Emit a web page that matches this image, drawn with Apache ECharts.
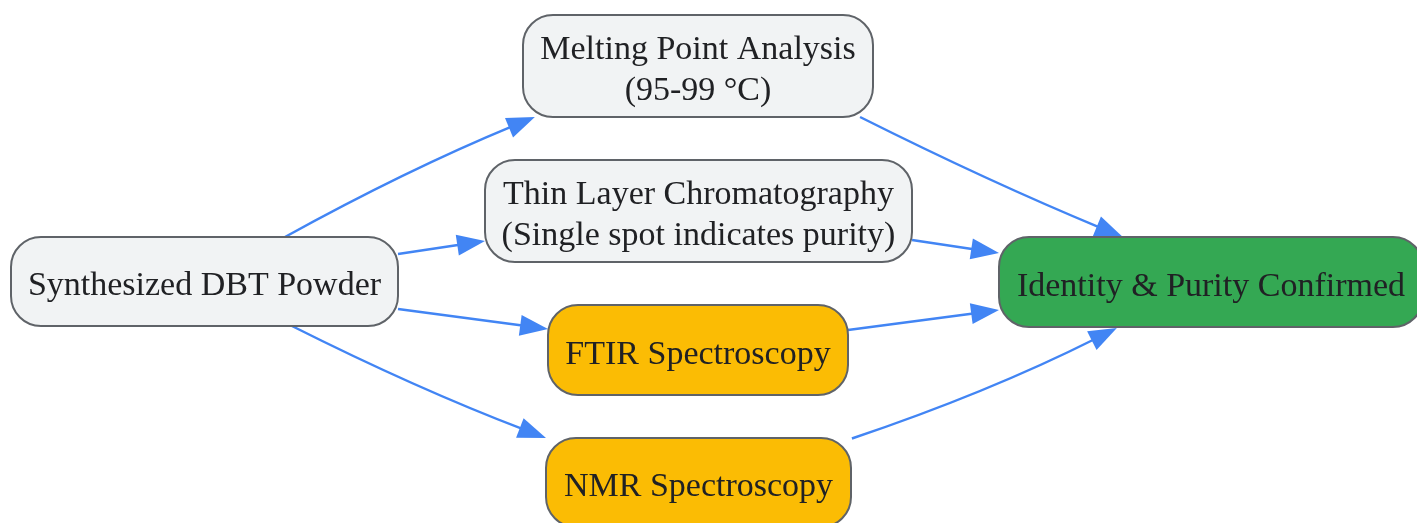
<!DOCTYPE html>
<html>
<head>
<meta charset="utf-8">
<script src="https://cdn.jsdelivr.net/npm/echarts@6/dist/echarts.min.js"></script>
<style>
html,body{margin:0;padding:0;background:#fff;}
#chart{width:1417px;height:523px;}
</style>
</head>
<body>
<div id="chart"></div>
<script>
// ---- diagram content ----
var nodeLabels = [
  'Synthesized DBT Powder',
  'Melting Point Analysis\n(95-99 °C)',
  'Thin Layer Chromatography\n(Single spot indicates purity)',
  'FTIR Spectroscopy',
  'NMR Spectroscopy',
  'Identity & Purity Confirmed'
];
var nodeKinds = ['input', 'input', 'input', 'spectro', 'spectro', 'result'];
// edges: [source, target]
var edgeSources = [0, 0, 0, 0, 1, 2, 3, 4];
var edgeTargets = [1, 2, 3, 4, 5, 5, 5, 5];

// ---- layout (positions / sizes, in pixels of the 1417x523 canvas) ----
var layoutX = [204.5, 698, 698.5, 698, 698.5, 1211];
var layoutY = [281.5, 66, 211, 350, 482.5, 282];
var layoutW = [387, 350, 427, 300, 305, 424];
var layoutH = [89, 102, 102, 90, 89, 90];
// anchor of each edge end relative to node box (fraction of width / height from centre)
var edgeSrcAnchor = [[0.208, -0.5], [0.5, -0.31], [0.5, 0.309], [0.226, 0.5], [0.463, 0.5], [0.5, 0.284], [0.5, -0.222], [0.503, -0.494]];
var edgeTgtAnchor = [[-0.466, 0.5], [-0.5, 0.294], [-0.5, -0.233], [-0.5, -0.5], [-0.208, -0.5], [-0.5, -0.322], [-0.5, 0.311], [-0.222, 0.511]];
var edgeCurve = [0.028, 0, 0, -0.025, -0.018, 0, 0, -0.035];

// ---- styles ----
var fills = { input: '#f1f3f4', spectro: '#fbbc04', result: '#34a853' };
var borderColor = '#5f6368';
var edgeColor = '#4285f4';
var textColor = '#202124';
var fontFamily = '"Liberation Serif", "DejaVu Serif", serif';

var chart = echarts.init(document.getElementById('chart'), null, { renderer: 'canvas' });

function anchorPoint(api, n, a) {
  var c = api.coord([layoutX[n], layoutY[n]]);
  var s = api.size([layoutW[n], layoutH[n]]);
  return [c[0] + a[0] * s[0], c[1] + a[1] * Math.abs(s[1])];
}

var option = {
  animation: false,
  backgroundColor: '#ffffff',
  grid: { left: 0, right: 0, top: 0, bottom: 0 },
  xAxis: { type: 'value', min: 0, max: 1417, show: false },
  yAxis: { type: 'value', min: 0, max: 523, inverse: true, show: false },
  series: [
    {
      type: 'custom',
      name: 'edges',
      silent: true,
      clip: false,
      coordinateSystem: 'cartesian2d',
      data: edgeSources.map(function (s, i) { return [layoutX[s], layoutY[s], layoutX[edgeTargets[i]], layoutY[edgeTargets[i]]]; }),
      renderItem: function (params, api) {
        var i = params.dataIndex;
        var p0 = anchorPoint(api, edgeSources[i], edgeSrcAnchor[i]);
        var p1 = anchorPoint(api, edgeTargets[i], edgeTgtAnchor[i]);
        var dx = p1[0] - p0[0], dy = p1[1] - p0[1];
        var k = edgeCurve[i];
        var cp = [(p0[0] + p1[0]) / 2 + dy * k, (p0[1] + p1[1]) / 2 - dx * k];
        var tx = p1[0] - cp[0], ty = p1[1] - cp[1];
        var tl = Math.sqrt(tx * tx + ty * ty);
        tx /= tl; ty /= tl;
        var headLen = 28, headW = 10.5;
        var bx = p1[0] - tx * headLen, by = p1[1] - ty * headLen;
        var ex = p1[0] - tx * (headLen - 4), ey = p1[1] - ty * (headLen - 4);
        return {
          type: 'group',
          children: [
            {
              type: 'bezierCurve',
              shape: { x1: p0[0], y1: p0[1], x2: ex, y2: ey, cpx1: cp[0], cpy1: cp[1] },
              style: { stroke: edgeColor, lineWidth: 2.5, fill: null }
            },
            {
              type: 'polygon',
              shape: { points: [[p1[0], p1[1]], [bx - ty * headW, by + tx * headW], [bx + ty * headW, by - tx * headW]] },
              style: { fill: edgeColor }
            }
          ]
        };
      }
    },
    {
      type: 'custom',
      name: 'nodes',
      silent: true,
      clip: false,
      coordinateSystem: 'cartesian2d',
      data: nodeLabels.map(function (l, i) { return [layoutX[i], layoutY[i]]; }),
      renderItem: function (params, api) {
        var i = params.dataIndex;
        var c = api.coord([api.value(0), api.value(1)]);
        var s = api.size([layoutW[i], layoutH[i]]);
        var w = s[0], h = Math.abs(s[1]);
        return {
          type: 'group',
          children: [
            {
              type: 'rect',
              shape: { x: c[0] - w / 2, y: c[1] - h / 2, width: w, height: h, r: 30 },
              style: { fill: fills[nodeKinds[i]], stroke: borderColor, lineWidth: 2 }
            },
            {
              type: 'text',
              style: {
                text: nodeLabels[i],
                x: c[0],
                y: c[1] + 5,
                align: 'center',
                verticalAlign: 'middle',
                fontFamily: fontFamily,
                fontSize: 34,
                lineHeight: 41,
                fill: textColor
              }
            }
          ]
        };
      }
    }
  ]
};
chart.setOption(option);
</script>
</body>
</html>
